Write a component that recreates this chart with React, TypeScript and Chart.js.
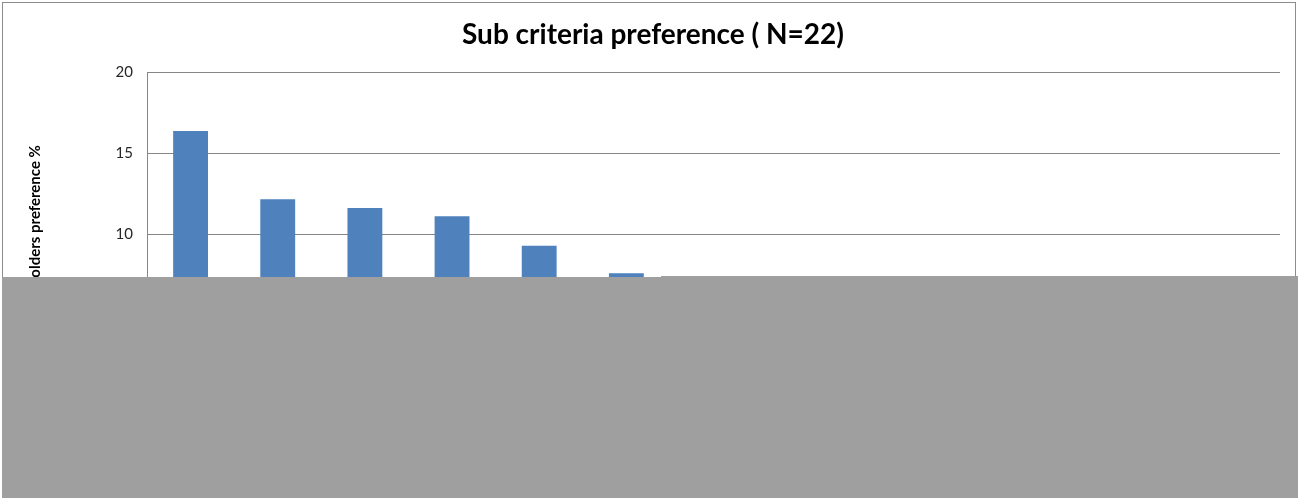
import React, { useEffect, useRef } from "react";
import { Chart, registerables } from "chart.js";

Chart.register(...registerables);

const categories: string[] = [
  "C1", "C2", "C3", "C4", "C5", "C6", "C7", "C8", "C9", "C10", "C11", "C12", "C13",
];
const preference: number[] = [16.36, 12.15, 11.6, 11.1, 9.27, 7.57, 7.1, 6.3, 5.4, 4.6, 3.9, 3.1, 1.5];
const yTicks: number[] = [0, 5, 10, 15, 20];
const titleText = "Sub criteria preference ( N=22)";
const yTitleText = "Stakeholders preference %";

export default function App() {
  const ref = useRef<HTMLCanvasElement | null>(null);

  useEffect(() => {
    document.body.style.margin = "0";
    const canvas = ref.current;
    if (!canvas) return;
    const chart = new Chart(canvas, {
      type: "bar",
      data: {
        labels: categories,
        datasets: [
          {
            data: preference,
            backgroundColor: "#4F81BD",
            borderWidth: 0,
            barPercentage: 0.4,
            categoryPercentage: 1,
          },
        ],
      },
      options: {
        animation: false,
        responsive: false,
        layout: { padding: { left: 26, right: 18, top: 0, bottom: 0 } },
        plugins: {
          legend: { display: false },
          tooltip: { enabled: false },
          title: {
            display: true,
            text: titleText,
            color: "#000",
            font: { family: "Lato", size: 28, weight: "bold" },
            padding: { top: 18, bottom: 20.4 },
          },
        },
        scales: {
          x: {
            grid: { display: false, drawTicks: false },
            border: { color: "#868686" },
            ticks: { maxRotation: 0, autoSkip: false, color: "#262626", font: { family: "Lato", size: 15 } },
            afterFit: (s: any) => {
              s.height = 102;
            },
          },
          y: {
            min: 0,
            max: 20,
            afterBuildTicks: (s: any) => {
              s.ticks = yTicks.map((v) => ({ value: v }));
            },
            grid: { color: "#868686", drawTicks: false },
            border: { color: "#868686" },
            ticks: { padding: 14, color: "#262626", font: { family: "Lato", size: 15 } },
            title: {
              display: true,
              text: yTitleText,
              color: "#000",
              font: { family: "Lato", size: 15, weight: "bold" },
              padding: 0,
            },
            afterFit: (s: any) => {
              s.width = 147 - 26;
            },
          },
        },
      },
    });
    return () => chart.destroy();
  }, []);

  return (
    <div style={{ position: "relative", width: 1298, height: 498, overflow: "hidden", background: "#fff" }}>
      <div
        style={{
          position: "absolute",
          left: 2,
          top: 2,
          width: 1294,
          height: 600,
          border: "1px solid #8c8c8c",
          boxSizing: "border-box",
        }}
      />
      <canvas ref={ref} width={1298} height={498} style={{ position: "absolute", left: 0, top: 0 }} />
      <div style={{ position: "absolute", left: 2, top: 277, width: 659, height: 221, background: "#9f9f9f" }} />
      <div style={{ position: "absolute", left: 661, top: 276, width: 637, height: 222, background: "#9f9f9f" }} />
    </div>
  );
}
